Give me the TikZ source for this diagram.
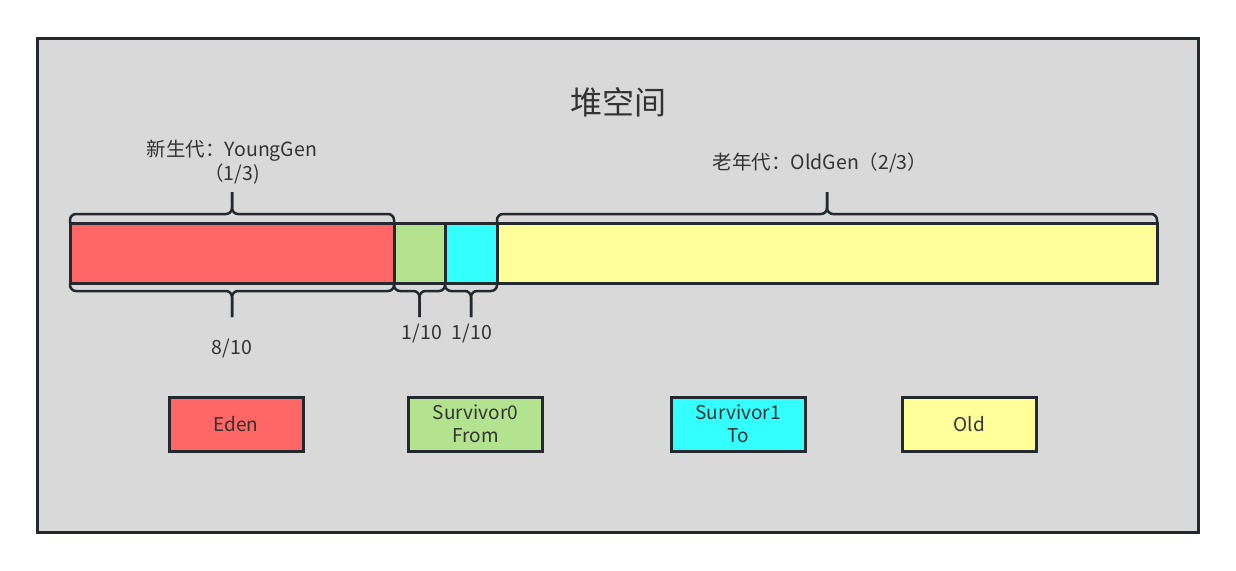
\documentclass[tikz,border=0pt]{standalone}
\usepackage{fontspec}
\setmainfont{Noto Sans CJK SC}
\usetikzlibrary{positioning}
\definecolor{heapgray}{RGB}{217,217,217}
\definecolor{heapline}{RGB}{35,41,47}
\definecolor{heaptext}{RGB}{51,51,51}
\definecolor{edenred}{RGB}{255,102,102}
\definecolor{survgreen}{RGB}{179,227,143}
\definecolor{survcyan}{RGB}{51,255,255}
\definecolor{oldyellow}{RGB}{255,255,153}
\tikzstyle{bar} = [rectangle, draw=heapline, line width=3pt, minimum height=60pt, inner sep=0pt, outer sep=0pt]
\tikzstyle{legend} = [rectangle, draw=heapline, line width=3pt, minimum width=134pt, minimum height=54pt, inner sep=0pt, text=heaptext, align=center, font=\fontsize{19}{23}\selectfont]
\tikzstyle{brace} = [line width=2.5pt, draw=heapline, rounded corners=6pt]
\tikzstyle{sizelabel} = [text=heaptext, align=center, font=\fontsize{19.5}{24}\selectfont]
\newcommand{\topbrace}[1]{%
  \draw[brace] (#1.north west) |- ([yshift=9pt]#1.north) -- ([yshift=31pt]#1.north);
  \draw[brace] (#1.north east) |- ([yshift=9pt]#1.north) -- ([yshift=31pt]#1.north);}
\newcommand{\bottombrace}[1]{%
  \draw[brace] (#1.south west) |- ([yshift=-8pt]#1.south) -- ([yshift=-34pt]#1.south);
  \draw[brace] (#1.south east) |- ([yshift=-8pt]#1.south) -- ([yshift=-34pt]#1.south);}
\begin{document}
\begin{tikzpicture}[x=1pt, y=-1pt]
\useasboundingbox[fill=white] (0,0) rectangle (1236,570);
% Heap frame and title
\node (heap) [draw=heapline, fill=heapgray, line width=3pt, minimum width=1161pt, minimum height=494pt] at (617.5,285) {};
\node (title) [text=heaptext, font=\fontsize{32}{38}\selectfont] at (618,102) {堆空间};

% Generations bar
\node (eden) [bar, fill=edenred, minimum width=324pt] at (232,253) {};
\node (sfrom) [bar, fill=survgreen, right=0pt of eden, minimum width=51pt] {};
\node (sto) [bar, fill=survcyan, right=0pt of sfrom, minimum width=52pt] {};
\node (old) [bar, fill=oldyellow, right=0pt of sto, minimum width=660pt] {};

% Braces and sizes
\topbrace{eden}
\topbrace{old}
\bottombrace{eden}
\bottombrace{sfrom}
\bottombrace{sto}
\node (youngtxt) [sizelabel] at (232,162) {新生代：YoungGen\\（1/3)};
\node (oldtxt) [sizelabel] at (820,163) {老年代：OldGen（2/3）};
\node (edentxt) [sizelabel] at (232,348) {8/10};
\node (sfromtxt) [sizelabel] at (422,333) {1/10};
\node (stotxt) [sizelabel] at (472,333) {1/10};

% Legend
\node (edenkey) [legend, fill=edenred] at (236,424) {Eden};
\node (sfromkey) [legend, fill=survgreen] at (475.5,424) {Survivor0\\From};
\node (stokey) [legend, fill=survcyan] at (738,424) {Survivor1\\To};
\node (oldkey) [legend, fill=oldyellow] at (969.5,424) {Old};
\end{tikzpicture}
\end{document}
